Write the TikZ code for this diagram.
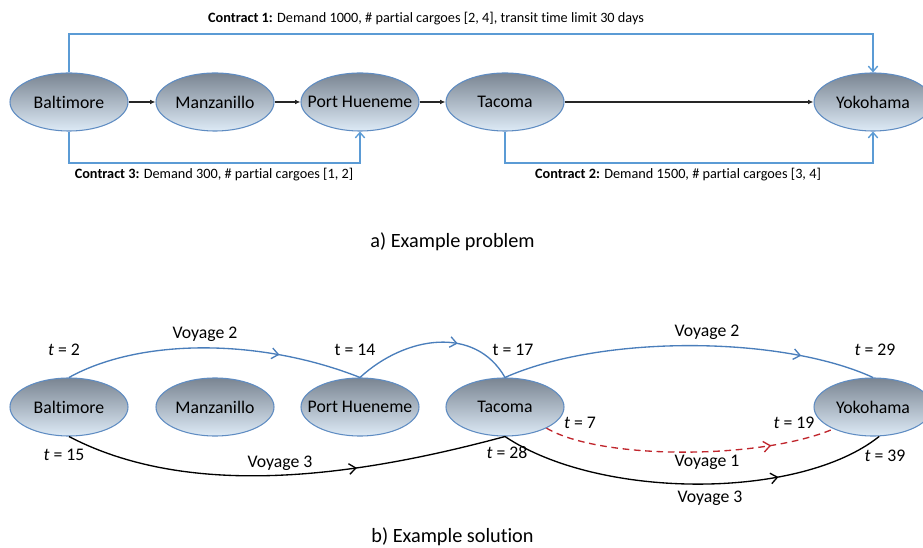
\documentclass[tikz,border=0pt]{standalone}
\usepackage{fontspec}
\setmainfont[Ligatures=NoCommon]{Carlito}
\usetikzlibrary{shapes.geometric,arrows.meta,decorations.markings}
\definecolor{cblue}{HTML}{5B9BD5}
\definecolor{vblue}{HTML}{4A7EBB}
\definecolor{edgeblue}{HTML}{5F8CC2}
\definecolor{topgrey}{HTML}{7A8592}
\definecolor{botblue}{HTML}{DDEAF6}
\definecolor{vred}{HTML}{C0262D}
\newcommand{\pname}[1]{\makebox[0pt][c]{#1}}
\tikzset{
  port/.style={ellipse, draw=edgeblue, line width=0.8pt, top color=topgrey, bottom color=botblue,
    minimum width=88.5pt, minimum height=43.5pt, inner sep=0pt, font=\fontsize{13.3}{15}\selectfont},
  flow/.style={draw=black!85, line width=1pt, -{Latex[length=4pt,width=3.5pt]}},
  contract/.style={draw=cblue, line width=1pt, -{Straight Barb[length=4pt,width=7pt]}},
  clabel/.style={font=\fontsize{10.7}{12}\selectfont, inner sep=0pt},
  tlabel/.style={font=\fontsize{13.3}{15}\selectfont, inner sep=0pt},
  caption/.style={font=\fontsize{15.2}{18}\selectfont, inner sep=0pt},
  midarrow/.style={postaction={decorate}, decoration={markings,
    mark=at position #1 with {\arrow{Straight Barb[length=5pt,width=8pt]}}}},
  voytwo/.style={draw=vblue, line width=1pt},
  voythree/.style={draw=black, line width=1pt},
  voyone/.style={draw=vred, line width=1pt, dash pattern=on 5pt off 3.5pt},
}
\begin{document}
\begin{tikzpicture}[x=0.75pt,y=-0.75pt]
\useasboundingbox (0,0) rectangle (923,548);
% ---------- a) Example problem ----------
\node[port] (balt) at (69,102) {\pname{Baltimore}};
\node[port] (manz) at (215,102) {\pname{Manzanillo}};
\node[port] (ph)   at (360,102) {\pname{Port Hueneme}};
\node[port] (tac)  at (505,102) {\pname{Tacoma}};
\node[port] (yok)  at (873,102) {\pname{Yokohama}};

\draw[flow] (balt) -- (manz);
\draw[flow] (manz) -- (ph);
\draw[flow] (ph) -- (tac);
\draw[flow] (tac) -- (yok);

\coordinate (c1) at (69,34);
\coordinate (c3) at (69,163);
\coordinate (c2) at (505,163);
\draw[contract] (balt.north) -- (c1) -| (yok.north);
\draw[contract] (balt.south) -- (c3) -| (ph.south);
\draw[contract] (tac.south) -- (c2) -| (yok.south);

\node[clabel] (l1) at (426,19) {\textbf{Contract 1:} Demand 1000, \# partial cargoes [2, 4], transit time limit 30 days};
\node[clabel] (l3) at (214,175) {\textbf{Contract 3:} Demand 300, \# partial cargoes [1, 2]};
\node[clabel] (l2) at (678,175) {\textbf{Contract 2:} Demand 1500, \# partial cargoes [3, 4]};
\node[caption] (capa) at (452.5,242) {a) Example problem};

% ---------- b) Example solution ----------
\node[port] (balt2) at (69,407) {\pname{Baltimore}};
\node[port] (manz2) at (215,407) {\pname{Manzanillo}};
\node[port] (ph2)   at (360,407) {\pname{Port Hueneme}};
\node[port] (tac2)  at (505,407) {\pname{Tacoma}};
\node[port] (yok2)  at (873,407) {\pname{Yokohama}};

% Voyage 2
\draw[voytwo, midarrow=0.72] (balt2.north) .. controls (140,338) and (260,338) .. (ph2.north);
\draw[voytwo, midarrow=0.64] (ph2.north) .. controls (405,336) and (475,325) .. (tac2.north);
\draw[voytwo, midarrow=0.8] (tac2.north) .. controls (600,335) and (780,335) .. (yok2.north);
% Voyage 3
\draw[voythree, midarrow=0.66] (balt2.south) .. controls (200,505) and (380,470) .. (tac2.south);
\draw[voythree, midarrow=0.72] (tac2.south) .. controls (600,500) and (800,500) .. (yok2.-78);
% Voyage 1
\draw[voyone, midarrow=0.78] (tac2.-27) .. controls (600,460) and (760,460) .. (yok2.-151);

\node[tlabel] (t2)  at (64,350) {\textit{t} = 2};
\node[tlabel] (v2a) at (205,334) {Voyage 2};
\node[tlabel] (t14) at (355,350) {t = 14};
\node[tlabel] (t17) at (513,350) {t = 17};
\node[tlabel] (v2b) at (707,332) {Voyage 2};
\node[tlabel] (t29) at (875,350) {\textit{t} = 29};

\node[tlabel] (t15) at (64,455) {\textit{t} = 15};
\node[tlabel] (v3a) at (280,463) {Voyage 3};
\node[tlabel] (t28) at (507,453) {\textit{t} = 28};
\node[tlabel] (v3b) at (710,498) {Voyage 3};
\node[tlabel] (t39) at (885,456) {\textit{t} = 39};

\node[tlabel] (t7)  at (580,423) {\textit{t} = 7};
\node[tlabel] (t19) at (794,423) {\textit{t} = 19};
\node[tlabel] (v1)  at (707,462) {Voyage 1};

\node[caption] (capb) at (452.5,537) {b) Example solution};
\end{tikzpicture}
\end{document}
